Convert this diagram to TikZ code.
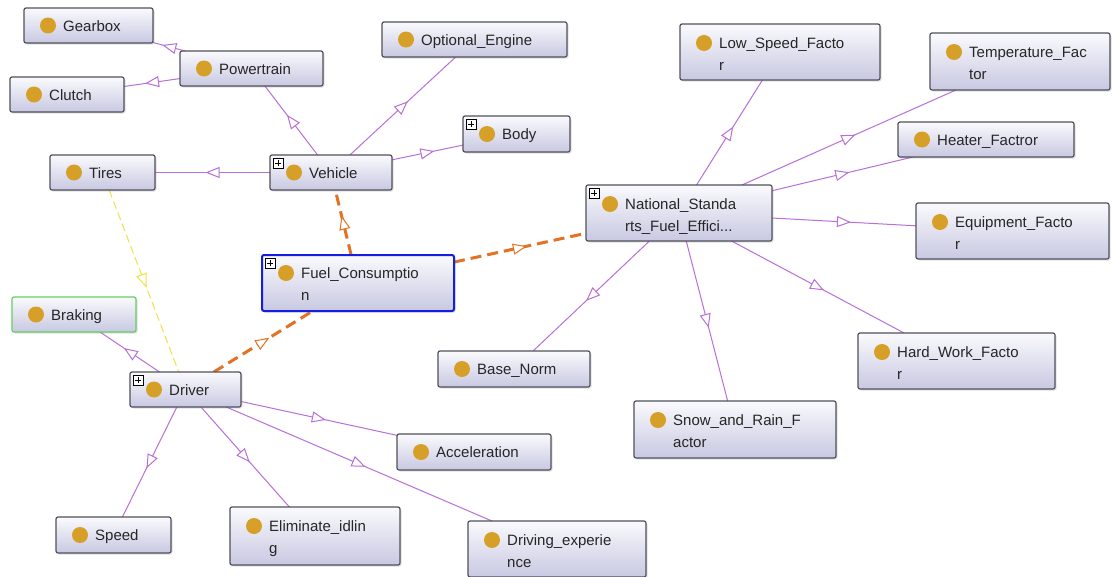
\documentclass[tikz,border=0pt]{standalone}
\usepackage{fontspec}
\setmainfont{Liberation Sans}
\usetikzlibrary{arrows.meta,calc,decorations.markings,shadows,backgrounds}
\definecolor{edgec}{RGB}{184,112,216}
\definecolor{orangec}{RGB}{226,114,36}
\definecolor{yellowc}{RGB}{240,226,70}
\definecolor{dotc}{RGB}{214,160,40}
\definecolor{boxtop}{RGB}{250,250,253}
\definecolor{boxbot}{RGB}{200,200,226}
\definecolor{borderc}{RGB}{80,80,92}
\definecolor{bluec}{RGB}{20,30,225}
\definecolor{greenc}{RGB}{100,205,100}
\tikzset{
  cls/.style={rectangle, rounded corners=2pt, draw=borderc, line width=1.2pt,
    top color=boxtop, bottom color=boxbot, inner sep=0pt, outer sep=0pt,
    drop shadow={opacity=0.25, shadow xshift=1.5pt, shadow yshift=-1.5pt}},
  dotst/.style={circle, fill=dotc, minimum size=16pt, inner sep=0pt},
  txt/.style={inner sep=0pt, font=\fontsize{15}{22}\selectfont, text=black!85},
  midarrow/.style={postaction={decorate, decoration={markings,
    mark=at position 0.5 with {\arrow[xshift=7pt]{Triangle[length=14pt,width=11pt,fill=white,line width=1pt]}}}}},
  isa/.style={draw=edgec, line width=1pt, midarrow},
  fuelrel/.style={draw=orangec, line width=3pt, dash pattern=on 11pt off 6pt, midarrow},
  yelrel/.style={draw=yellowc, line width=1pt, dash pattern=on 8pt off 4pt, midarrow},
}
\newcommand\twol[2]{\begin{tabular}[t]{@{}l@{}}#1\\#2\end{tabular}}
\newcommand\cbox[8][]{%
  \node[cls,#1,anchor=north west,minimum width=#5pt,minimum height=#6pt] (#2) at (#3,#4) {};
  \node[dotst] (#2-dot) at ($(#2.north west)+(24,#7)$) {};
  \node[txt,anchor=base west] (#2-txt) at ($(#2.north west)+(39,#7+5.5)$) {#8};}
\newcommand\plusat[1]{%
  \draw[fill=white, draw=black, line width=0.7pt] ($(#1.north west)+(3,3)$) rectangle ++(10,10);
  \draw[line width=1pt] ($(#1.north west)+(5,8)$) -- ++(6,0) ($(#1.north west)+(8,5)$) -- ++(0,6);}
\begin{document}
\begin{tikzpicture}[x=1pt,y=-1pt]
\useasboundingbox (0,0) rectangle (1114,576);
% classes
\cbox{gearbox}{24}{8}{129}{35}{17.5}{Gearbox}
\cbox{powertrain}{180}{51}{143}{35}{17.5}{Powertrain}
\cbox{clutch}{10}{77}{114}{35}{17.5}{Clutch}
\cbox{optengine}{382}{22}{185}{35}{17.5}{Optional\_Engine}
\cbox{body}{463}{116}{107}{36}{18}{Body}
\cbox{tires}{50}{155}{105}{35}{17.5}{Tires}
\cbox{vehicle}{270}{155}{122}{35}{17.5}{Vehicle}
\cbox{lowspeed}{680}{24}{200}{56}{19}{\twol{Low\_Speed\_Facto}{r}}
\cbox{temp}{930}{33}{180}{57}{19}{\twol{Temperature\_Fac}{tor}}
\cbox{heater}{898}{122}{176}{35}{17.5}{Heater\_Factror}
\cbox{national}{586}{185}{186}{56}{19}{\twol{National\_Standa}{rts\_Fuel\_Effici...}}
\cbox{equip}{916}{203}{193}{56}{19}{\twol{Equipment\_Facto}{r}}
\cbox[draw=bluec,line width=2pt]{fuel}{262}{255}{192}{56}{18}{\twol{Fuel\_Consumptio}{n}}
\cbox[draw=greenc,line width=1.2pt]{braking}{12}{297}{124}{35}{17.5}{Braking}
\cbox{basenorm}{438}{351}{152}{36}{18}{Base\_Norm}
\cbox{hardwork}{858}{333}{197}{56}{19}{\twol{Hard\_Work\_Facto}{r}}
\cbox{driver}{130}{372}{111}{35}{17.5}{Driver}
\cbox{snow}{634}{401}{202}{57}{19}{\twol{Snow\_and\_Rain\_F}{actor}}
\cbox{accel}{397}{434}{154}{36}{18}{Acceleration}
\cbox{speed}{56}{517}{115}{36}{18}{Speed}
\cbox{elim}{230}{507}{170}{58}{19}{\twol{Eliminate\_idlin}{g}}
\cbox{drivexp}{468}{521}{178}{56}{19}{\twol{Driving\_experie}{nce}}
\plusat{body}
\plusat{vehicle}
\plusat{national}
\plusat{fuel}
\plusat{driver}
% connectors
\begin{scope}[on background layer]
\fill[white] (0,0) rectangle (1114,576);
\draw[isa] (powertrain) -- (gearbox);
\draw[isa] (powertrain) -- (clutch);
\draw[isa] (vehicle) -- (powertrain);
\draw[isa] (vehicle) -- (optengine);
\draw[isa] (vehicle) -- (body);
\draw[isa] (vehicle) -- (tires);
\draw[fuelrel] (fuel) -- (vehicle);
\draw[fuelrel] (fuel) -- (national);
\draw[fuelrel] (driver) -- (fuel);
\draw[yelrel] (tires) -- (driver);
\draw[isa] (driver) -- (braking);
\draw[isa] (driver) -- (speed);
\draw[isa] (driver) -- (elim);
\draw[isa] (driver) -- (accel);
\draw[isa] (driver) -- (drivexp);
\draw[isa] (national) -- (lowspeed);
\draw[isa] (national) -- (temp);
\draw[isa] (national) -- (heater);
\draw[isa] (national) -- (equip);
\draw[isa] (national) -- (hardwork);
\draw[isa] (national) -- (snow);
\draw[isa] (national) -- (basenorm);
\end{scope}
\end{tikzpicture}
\end{document}
